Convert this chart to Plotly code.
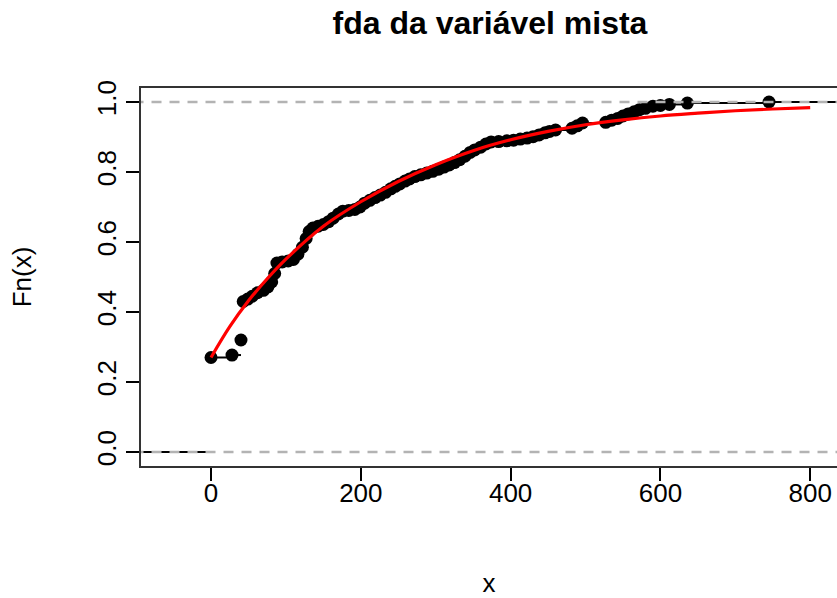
import plotly.graph_objects as go

ecdf_x = [0, 28, 40, 43, 49, 55, 62, 70, 76, 81, 85, 88, 95, 103, 110, 116, 122, 127,
          131, 136, 143, 150, 157, 163, 170, 176, 184, 192, 199, 205, 212, 219, 226,
          233, 240, 246, 252, 259, 265, 272, 280, 288, 296, 304, 311, 318, 325, 332,
          339, 346, 352, 360, 367, 374, 384, 395, 404, 413, 422, 430, 438, 446, 452,
          460, 482, 489, 496, 527, 535, 543, 550, 557, 565, 572, 580, 590, 600, 612,
          636, 745]
ecdf_y = [0.270, 0.277, 0.320, 0.430, 0.437, 0.445, 0.455, 0.462, 0.472, 0.486, 0.510,
          0.540, 0.543, 0.546, 0.550, 0.565, 0.585, 0.610, 0.630, 0.640, 0.645, 0.650,
          0.658, 0.668, 0.680, 0.688, 0.690, 0.693, 0.700, 0.711, 0.719, 0.727, 0.734,
          0.742, 0.752, 0.759, 0.766, 0.774, 0.780, 0.787, 0.792, 0.797, 0.802, 0.808,
          0.814, 0.820, 0.827, 0.835, 0.845, 0.856, 0.863, 0.871, 0.880, 0.886, 0.887,
          0.889, 0.891, 0.894, 0.897, 0.901, 0.906, 0.912, 0.916, 0.920, 0.925, 0.932,
          0.940, 0.942, 0.948, 0.953, 0.960, 0.966, 0.972, 0.978, 0.982, 0.988, 0.990,
          0.993, 0.997, 1.000]

# Theoretical (fitted) CDF curve
curve_x = [0, 25, 50, 75, 100, 150, 200, 250, 300, 350, 400, 450, 500, 550, 600,
           650, 700, 750, 800]
curve_y = [0.270, 0.358, 0.432, 0.495, 0.551, 0.645, 0.715, 0.773, 0.821, 0.861,
           0.892, 0.916, 0.935, 0.949, 0.960, 0.968, 0.975, 0.980, 0.984]

x_ticks = [0, 200, 400, 600, 800]
y_ticks = [0.0, 0.2, 0.4, 0.6, 0.8, 1.0]
y_tick_labels = ["0.0", "0.2", "0.4", "0.6", "0.8", "1.0"]

X_RANGE = [-93.5, 835.8]
Y_RANGE = [-0.04, 1.04]

FONT = "Liberation Sans, Arial, Helvetica, sans-serif"

# horizontal step segments (no verticals), as in R's plot.ecdf
seg_x, seg_y = [X_RANGE[0], ecdf_x[0], None], [0, 0, None]
for i in range(len(ecdf_x)):
    x_next = ecdf_x[i + 1] if i + 1 < len(ecdf_x) else X_RANGE[1] + 10
    seg_x += [ecdf_x[i], x_next, None]
    seg_y += [ecdf_y[i], ecdf_y[i], None]

fig = go.Figure()
fig.add_trace(go.Scatter(x=seg_x, y=seg_y, mode="lines",
                         line=dict(color="black", width=2), hoverinfo="skip",
                         showlegend=False))
fig.add_trace(go.Scatter(x=ecdf_x, y=ecdf_y, mode="markers",
                         marker=dict(color="black", size=13, line=dict(width=0)),
                         showlegend=False))
# reference lines at 0 and 1
for h in (0, 1):
    fig.add_trace(go.Scatter(x=[X_RANGE[0] - 10, X_RANGE[1] + 10], y=[h, h], mode="lines",
                             line=dict(color="#b3b3b3", width=2.5, dash="10px,8px"),
                             hoverinfo="skip", showlegend=False))
fig.add_trace(go.Scatter(x=curve_x, y=curve_y, mode="lines",
                         line=dict(color="#ff0000", width=3.2, shape="spline"),
                         showlegend=False))

fig.update_layout(
    width=837, height=598,
    margin=dict(l=141, r=0, t=88, b=132),
    paper_bgcolor="white", plot_bgcolor="white",
    font=dict(family=FONT, size=26, color="black"),
    title=dict(text="<b>fda da variável mista</b>", x=(141 + 839) / 2 / 837, xanchor="center",
               y=1 - 23 / 598, yanchor="middle", font=dict(size=32, color="black")),
    xaxis=dict(range=X_RANGE, tickvals=x_ticks, ticks="outside", ticklen=13, tickwidth=1.5,
               tickcolor="black", showline=True, linecolor="#333333", linewidth=2, mirror=True,
               showgrid=False, zeroline=False, ticklabelstandoff=-10,
               title=dict(text="x", standoff=69, font=dict(size=26))),
    yaxis=dict(range=Y_RANGE, tickvals=y_ticks, ticktext=y_tick_labels, tickangle=-90,
               ticks="outside", ticklen=13, tickwidth=1.5, tickcolor="black",
               showline=True, linecolor="#333333", linewidth=2, mirror=False,
               showgrid=False, zeroline=False,
               title=dict(text="Fn(x)", standoff=52, font=dict(size=26))),
)

fig.write_html("out.html")
